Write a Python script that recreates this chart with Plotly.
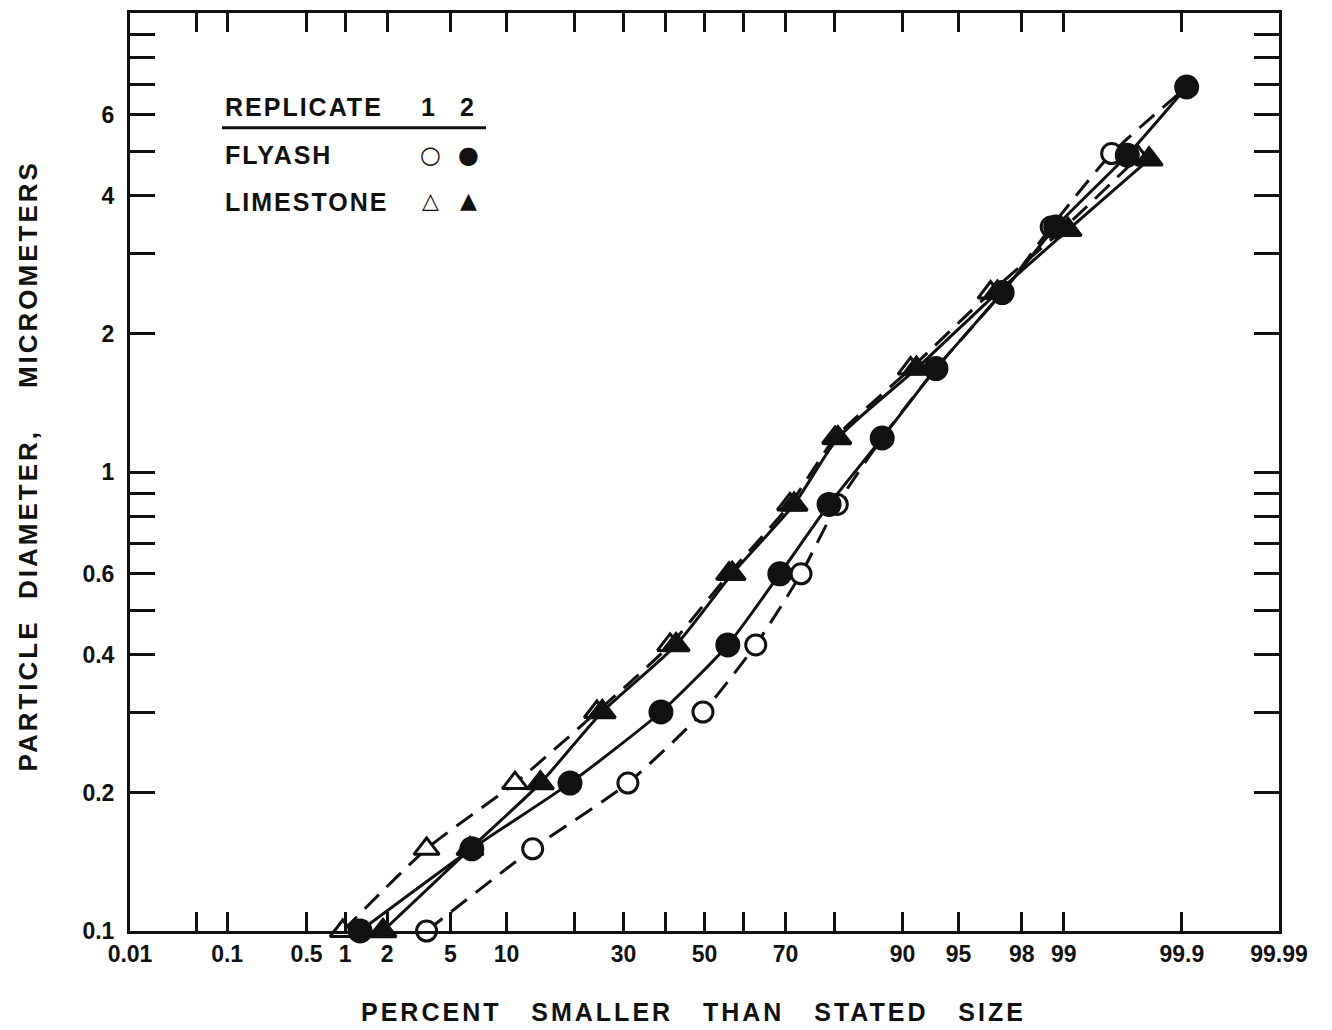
import statistics
import plotly.graph_objects as go

# ---------------- data ----------------
flyash1_pct = [3.6, 13.3, 31.0, 49.6, 63.0, 73.4, 80.5, 87.5, 93.3, 97.3, 98.76, 99.58, 99.91]
flyash1_um = [0.10, 0.151, 0.21, 0.30, 0.42, 0.60, 0.85, 1.186, 1.68, 2.46, 3.42, 4.94, 6.9]

flyash2_pct = [1.29, 6.6, 19.2, 38.9, 56.0, 68.7, 79.0, 87.5, 93.3, 97.3, 98.85, 99.69, 99.91]
flyash2_um = [0.10, 0.151, 0.21, 0.30, 0.42, 0.60, 0.85, 1.186, 1.68, 2.46, 3.42, 4.9, 6.9]

limestone1_pct = [0.96, 3.6, 11.0, 24.3, 41.2, 56.3, 71.0, 80.1, 90.9, 96.8, 98.97, 99.75]
limestone1_um = [0.10, 0.151, 0.21, 0.30, 0.42, 0.60, 0.85, 1.186, 1.68, 2.46, 3.37, 4.85]

limestone2_pct = [1.87, 6.45, 14.4, 25.4, 42.7, 57.1, 71.9, 80.6, 91.5, 97.1, 99.07, 99.80]
limestone2_um = [0.10, 0.151, 0.21, 0.30, 0.42, 0.60, 0.85, 1.186, 1.68, 2.46, 3.37, 4.8]

x_tick_pct = [0.01, 0.05, 0.1, 0.5, 1, 2, 5, 10, 20, 30, 40, 50, 60, 70, 80,
              90, 95, 98, 99, 99.9, 99.99]
x_tick_text = ["0.01", "", "0.1", "0.5", "1", "2", "5", "10", "", "30", "", "50", "",
               "70", "", "90", "95", "98", "99", "99.9", "99.99"]

y_tick_vals = [0.1, 0.2, 0.3, 0.4, 0.5, 0.6, 0.7, 0.8, 0.9,
               1, 2, 3, 4, 5, 6, 7, 8, 9, 10]
y_tick_text = ["0.1", "0.2", "", "0.4", "", "0.6", "", "", "",
               "1", "2", "", "4", "", "6", "", "", "", ""]

# ---------------- probability-scale transform ----------------
_nd = statistics.NormalDist()


def prob(p):
    return _nd.inv_cdf(p / 100.0)


def probs(lst):
    return [prob(p) for p in lst]


W, H = 1332, 1030
L, R, T, B = 130, 1279, 10, 931   # plot-area pixel box


def px(xp):
    return (xp - L) / (R - L)


def py(yp):
    return (B - yp) / (B - T)


FONT = "Liberation Sans, Arial, sans-serif"
BLK = "#111111"

fig = go.Figure()

series = [
    (flyash1_pct, flyash1_um, "circle", 20, "white", "20px,11px"),
    (limestone1_pct, limestone1_um, "triangle-up", 22, "white", "20px,11px"),
    (limestone2_pct, limestone2_um, "triangle-up", 23, BLK, "solid"),
    (flyash2_pct, flyash2_um, "circle", 22, BLK, "solid"),
]
for pct, um, sym, size, fill, dash in series:
    fig.add_trace(go.Scatter(
        x=probs(pct), y=um, mode="lines+markers", cliponaxis=False,
        line=dict(color=BLK, width=3, dash=dash, shape="spline", smoothing=0.6),
        marker=dict(symbol=sym, size=size, color=fill,
                    line=dict(color=BLK, width=3)),
        showlegend=False, hoverinfo="skip"))

fig.update_xaxes(
    range=[prob(0.01), prob(99.99)],
    tickmode="array", tickvals=probs(x_tick_pct), ticktext=x_tick_text,
    ticks="inside", ticklen=19, tickwidth=3, tickcolor=BLK,
    showline=True, linewidth=3, linecolor=BLK, mirror="ticks",
    showgrid=False, zeroline=False,
    tickfont=dict(family=FONT, size=23, color=BLK, weight="bold"),
)
fig.update_yaxes(
    type="log", range=[-1, 1],
    tickmode="array", tickvals=y_tick_vals, ticktext=y_tick_text,
    ticks="inside", ticklen=25, tickwidth=3, tickcolor=BLK,
    showline=True, linewidth=3, linecolor=BLK, mirror="ticks",
    showgrid=False, zeroline=False, ticklabelstandoff=8,
    tickfont=dict(family=FONT, size=23, color=BLK, weight="bold"),
)

ann = []


def text(xp, yp, s, size=22, xanchor="left", angle=0, family=FONT):
    ann.append(dict(x=px(xp), y=py(yp), xref="paper", yref="paper", text=s,
                    showarrow=False, xanchor=xanchor, yanchor="middle",
                    textangle=angle,
                    font=dict(family=family, size=size, color=BLK, weight="bold")))


SP = '<span style="letter-spacing:2px">{}</span>'
SP3 = '<span style="letter-spacing:3px">{}</span>'
# axis titles
text(693, 1012, SP3.format("PERCENT   SMALLER   THAN   STATED   SIZE"), size=25, xanchor="center")
text(28, 465, SP3.format("PARTICLE  DIAMETER,    MICROMETERS"), size=26, xanchor="center", angle=-90)

# legend block
text(223, 104, SP.format("REPLICATE"), size=25)
text(428, 104, "1", size=25, xanchor="center")
text(467, 104, "2", size=25, xanchor="center")
text(223, 152, SP.format("FLYASH"), size=25)
text(223, 200, SP.format("LIMESTONE"), size=25)
SYM = "DejaVu Sans, sans-serif"
text(430, 152, "○", size=24, xanchor="center", family=SYM)
text(468, 152, "●", size=24, xanchor="center", family=SYM)
text(430, 198, "△", size=22, xanchor="center", family=SYM)
text(468, 198, "▲", size=22, xanchor="center", family=SYM)

shapes = [dict(type="line", xref="paper", yref="paper",
               x0=px(222), x1=px(486), y0=py(125), y1=py(125),
               line=dict(color=BLK, width=3))]

fig.update_layout(
    width=W, height=H,
    margin=dict(l=L, r=W - R, t=T, b=H - B),
    paper_bgcolor="white", plot_bgcolor="white",
    annotations=ann, shapes=shapes,
)

fig.write_html("out.html")
